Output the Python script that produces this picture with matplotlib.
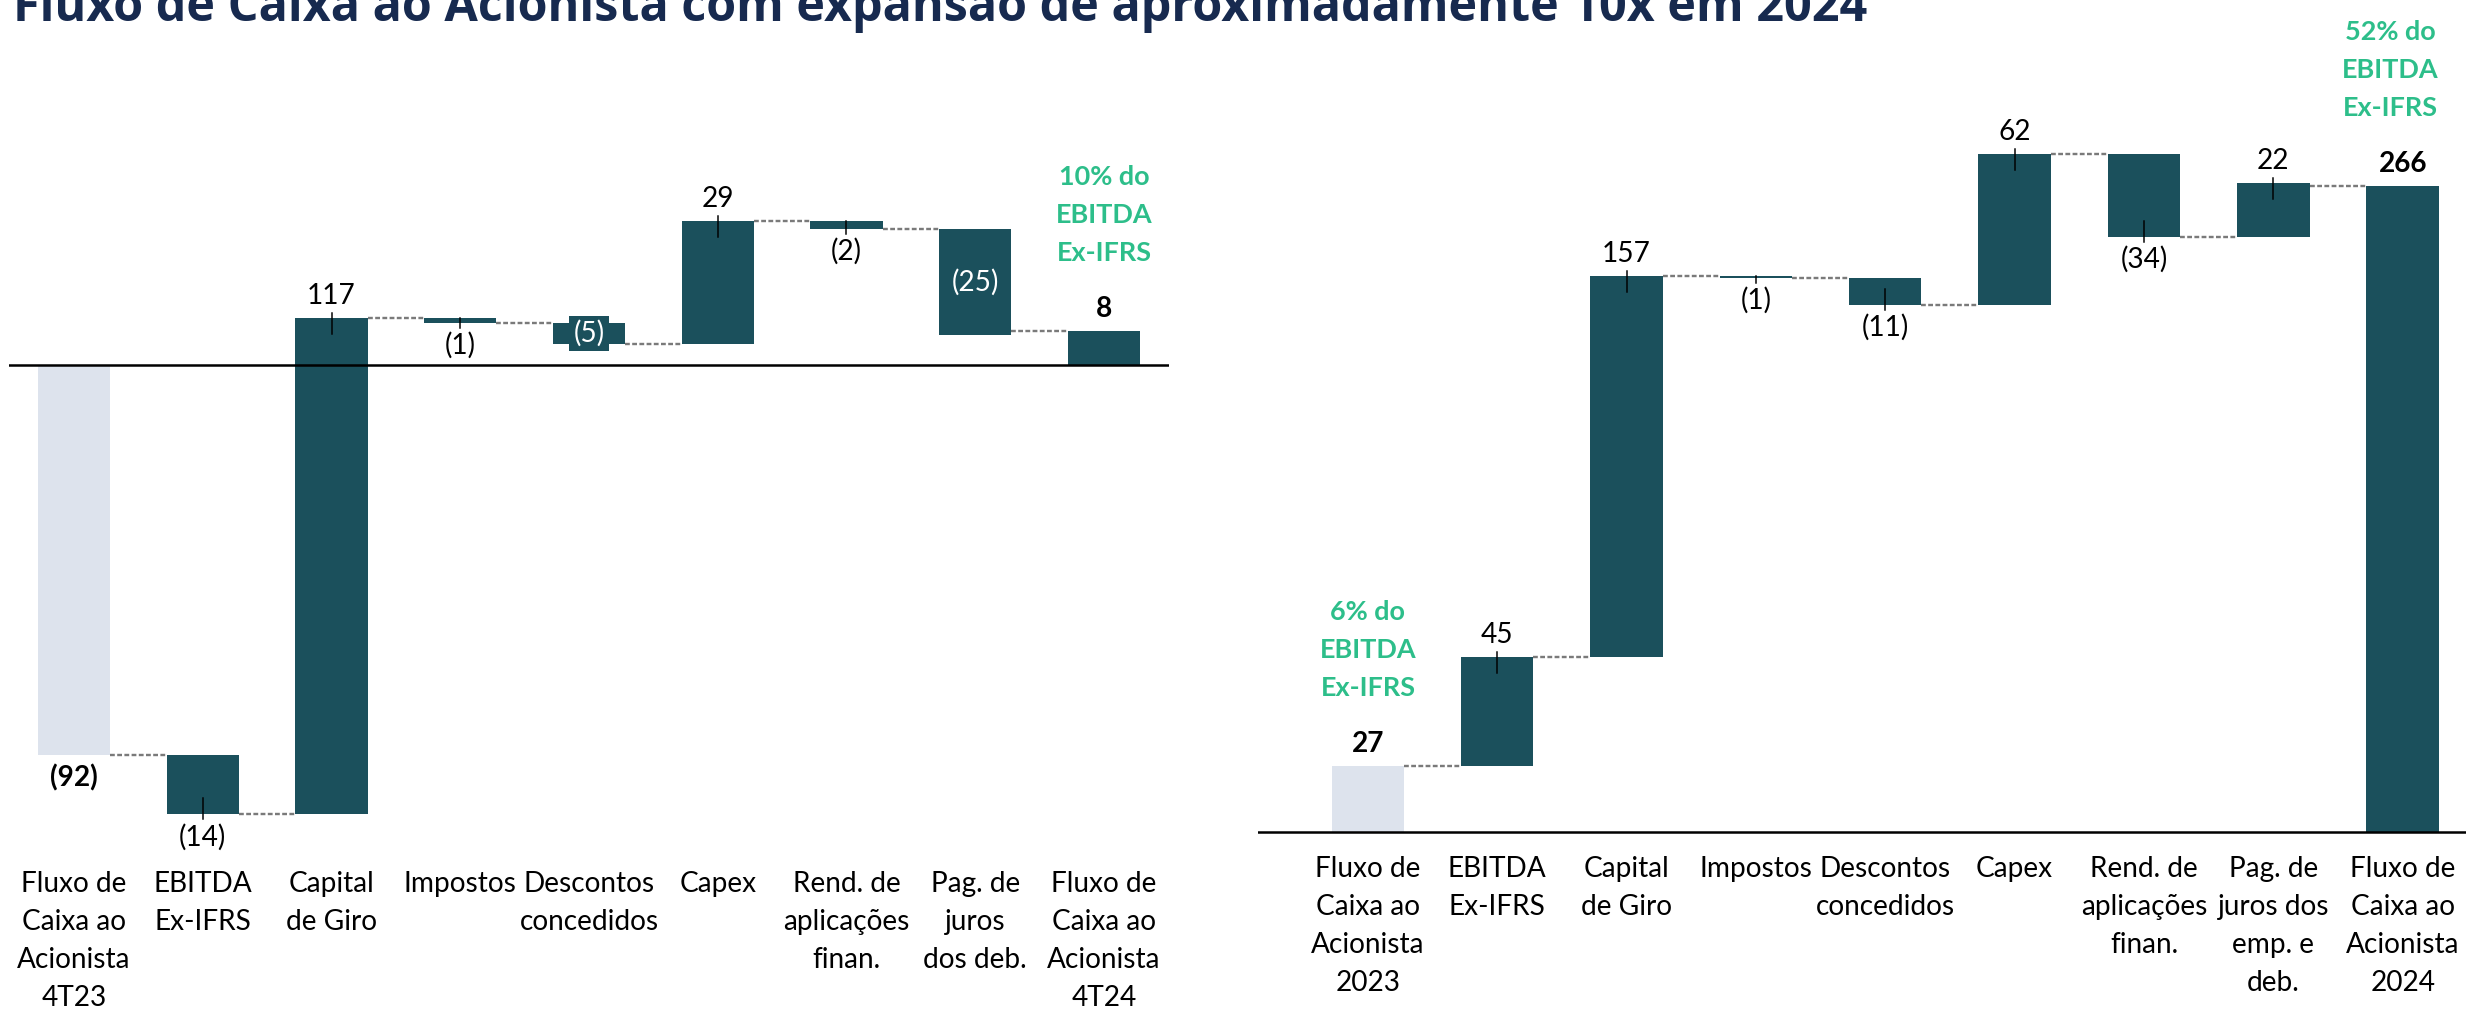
import matplotlib
matplotlib.use("Agg")
import matplotlib.pyplot as plt
import numpy as np

# ---- data ----
title = "Fluxo de Caixa ao Acionista com expansão de aproximadamente 10x em 2024"

left_start = -92
left_steps = [-14, 117, -1, -5, 29, -2, -25]
left_end = 8
left_labels = ["Fluxo de\nCaixa ao\nAcionista\n4T23", "EBITDA\nEx-IFRS", "Capital\nde Giro",
               "Impostos", "Descontos\nconcedidos", "Capex", "Rend. de\naplicações\nfinan.",
               "Pag. de\njuros\ndos deb.", "Fluxo de\nCaixa ao\nAcionista\n4T24"]

right_start = 27
right_steps = [45, 157, -1, -11, 62, -34, 22]
right_end = 266
right_labels = ["Fluxo de\nCaixa ao\nAcionista\n2023", "EBITDA\nEx-IFRS", "Capital\nde Giro",
                "Impostos", "Descontos\nconcedidos", "Capex", "Rend. de\naplicações\nfinan.",
                "Pag. de\njuros dos\nemp. e\ndeb.", "Fluxo de\nCaixa ao\nAcionista\n2024"]

left_note = ["10% do", "EBITDA", "Ex-IFRS"]
right_note_start = ["6% do", "EBITDA", "Ex-IFRS"]
right_note_end = ["52% do", "EBITDA", "Ex-IFRS"]

# ---- style ----
W, H, DPI = 2466, 1009, 72
TEAL = "#1B505C"
LIGHT = "#DDE3ED"
GREEN = "#2DBE8A"
NAVY = "#172A4F"
GREY = "#7A7A7A"
FS = 28

plt.rcParams['font.family'] = ['Lato', 'DejaVu Sans']

fig = plt.figure(figsize=(W / DPI, H / DPI), dpi=DPI)


def fmt(v):
    return "({})".format(abs(v)) if v < 0 else str(v)


def waterfall(ax, start, steps, end, labels, inside, boxed, label_y):
    n = len(steps) + 2
    levels = start + np.cumsum([0] + steps)
    y0, y1 = ax.get_ylim()
    bb = ax.get_position()
    ppu = bb.height * H / (y1 - y0)   # pixels per unit

    lo, hi, ends, vals, colors, kinds = [], [], [], [], [], []
    for i in range(n):
        if i == 0:
            a, b, e, v, c, k = min(0, start), max(0, start), start, start, LIGHT, "total"
        elif i == n - 1:
            a, b, e, v, c, k = min(0, end), max(0, end), end, end, TEAL, "total"
        else:
            p, q = levels[i - 1], levels[i]
            a, b, e, v, c, k = min(p, q), max(p, q), q, steps[i - 1], TEAL, "step"
        lo.append(a); hi.append(b); ends.append(e); vals.append(v); colors.append(c); kinds.append(k)

    lo = np.array(lo); hi = np.array(hi)
    x = np.arange(n)
    ax.bar(x, hi - lo, bottom=lo, width=0.56, color=colors, edgecolor="none", zorder=2)
    ax.axhline(0, color="black", lw=2.5, zorder=3)

    # connectors
    for i in range(n - 1):
        yc = ends[i] if i + 1 < n - 1 else end
        ax.plot([i + 0.28, i + 1 - 0.28], [yc, yc], color=GREY, lw=2.4,
                linestyle=(0, (2, 1)), zorder=1)

    # value labels
    for i in range(n):
        v = vals[i]
        bold = kinds[i] == "total"
        if i in inside:
            kw = {}
            if i in boxed:
                kw["bbox"] = dict(boxstyle="square,pad=0.15", fc=TEAL, ec="none")
            ax.text(i, (lo[i] + hi[i]) / 2, fmt(v), ha="center", va="center",
                    color="white", fontsize=FS, zorder=5, **kw)
            continue
        d = 1 if v >= 0 else -1
        edge = ends[i]
        if d > 0:
            ax.annotate(fmt(v), xy=(i, edge), xytext=(0, 14), textcoords="offset points",
                        ha="center", va="baseline", fontsize=FS,
                        fontweight="bold" if bold else "normal")
        else:
            ax.annotate(fmt(v), xy=(i, edge), xytext=(0, -9), textcoords="offset points",
                        ha="center", va="top", fontsize=FS,
                        fontweight="bold" if bold else "normal")
        if not bold:
            inner = min(16, (hi[i] - lo[i]) * ppu)
            ax.plot([i, i], [edge - d * inner / ppu, edge + d * 5 / ppu],
                    color="black", lw=1.5, zorder=4)

    # category labels
    for i, lab in enumerate(labels):
        for k, line in enumerate(lab.split("\n")):
            ax.annotate(line, xy=(i, 1 - (label_y + 38 * k) / H),
                        xycoords=("data", "figure fraction"),
                        ha="center", va="baseline", fontsize=FS)
    return hi


def note(ax, i, top, lines, dx=0):
    for k, line in enumerate(reversed(lines)):
        ax.annotate(line, xy=(i, top), xytext=(dx, 70 + 38 * k), textcoords="offset points",
                    ha="center", va="baseline", fontsize=27, fontweight="bold", color=GREEN)


# left chart
axL = fig.add_axes([9 / W, 1 - 850 / H, 1160 / W, 790 / H])
axL.set_xlim(-0.505, 8.505)
axL.set_ylim(-(850 - 365) / 4.24, (365 - 60) / 4.24)
axL.axis("off")
hiL = waterfall(axL, left_start, left_steps, left_end, left_labels,
                inside={4, 7}, boxed={4}, label_y=892)
note(axL, 8, hiL[-1], left_note)

# right chart
axR = fig.add_axes([1258 / W, 1 - 850 / H, (W - 1258) / W, 790 / H])
axR.set_xlim(-0.85, 8.49)
axR.set_ylim(-(850 - 832) / 2.43, (832 - 60) / 2.43)
axR.axis("off")
hiR = waterfall(axR, right_start, right_steps, right_end, right_labels,
                inside=set(), boxed=set(), label_y=877)
note(axR, 0, hiR[0], right_note_start)
note(axR, 8, hiR[-1], right_note_end, dx=-12)

# title, partly cut off at the top as on the slide
t = fig.text(13 / W, 1 - 21 / H, title, fontsize=40, fontweight="bold",
             family=["Open Sans", "DejaVu Sans"], color=NAVY, ha="left", va="baseline")
fig.canvas.draw()
w = t.get_window_extent().width
t.set_fontsize(40 * 1856 / w)

fig.savefig("out.png", dpi=DPI)
